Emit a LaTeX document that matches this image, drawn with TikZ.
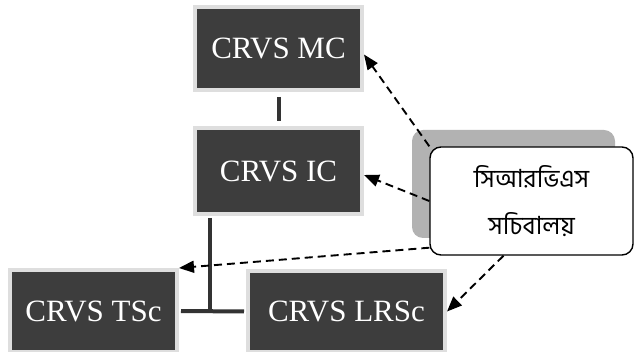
\documentclass[tikz,border=0pt]{standalone}
\usepackage{fontspec}
\setmainfont{Liberation Serif}
\newfontfamily\bnfont[Script=Bengali]{Hind Siliguri}
\usetikzlibrary{arrows.meta}

\begin{document}
\begin{tikzpicture}[x=1pt, y=-1pt,
  darkbox/.style={rectangle, fill=black!76, draw=black!13, line width=4pt,
    text=white, font=\fontsize{31}{33}\selectfont, inner sep=0pt},
  secbox/.style={rectangle, rounded corners=11pt, minimum width=203pt, minimum height=108pt},
  solidlink/.style={line width=4pt, draw=black!80},
  dashlink/.style={line width=1.9pt, dash pattern=on 8pt off 5pt,
    -{Triangle[length=15pt,width=12pt]}}]
\useasboundingbox (0,0) rectangle (635,352);

% committees
\node[darkbox, minimum width=167pt, minimum height=83pt] (mc) at (278.5,48.5) {CRVS MC};
\node[darkbox, minimum width=167pt, minimum height=86pt] (ic) at (278.5,171) {CRVS IC};
\node[darkbox, minimum width=167pt, minimum height=82pt] (tsc) at (93.5,311) {CRVS TSc};
\node[darkbox, minimum width=197pt, minimum height=81pt] (lrsc) at (346.5,311.5) {CRVS LRSc};

% secretariat with shadow
\node[secbox, fill=black!30] (shadow) at (513.5,184) {};
\node[secbox, draw, fill=white, line width=1.4pt, align=center,
  font=\bnfont\fontsize{25}{47}\selectfont] (sec) at (531.5,201)
  {সিআরভিএস\\সচিবালয়};

% solid links
\coordinate (jn) at (210,312);
\draw[solidlink, shorten <=5pt, shorten >=5pt] (mc.south) -- (ic.north);
\draw[solidlink, shorten <=2pt] (ic.south -| jn) -- (jn);
\draw[solidlink, shorten <=2pt, shorten >=2pt] (tsc.east) -- (lrsc.west);

% dashed links
\draw[dashlink] (sec.north west) -- ([yshift=-6pt]mc.east);
\draw[dashlink] (sec.west) -- ([yshift=-4pt]ic.east);
\draw[dashlink] ([yshift=8pt]sec.south west) -- (tsc.north east);
\draw[dashlink] ([xshift=-28pt]sec.south) -- (lrsc.east);
\end{tikzpicture}
\end{document}
